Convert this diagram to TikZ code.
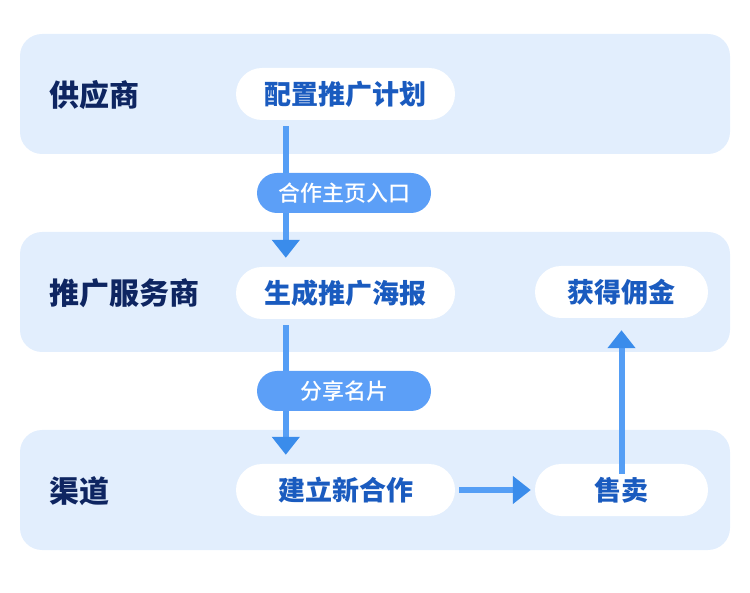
\documentclass[tikz,border=0pt]{standalone}
\usepackage{fontspec}
\setmainfont{Noto Sans CJK SC}
\newfontfamily\cjkheavy{Noto Sans CJK SC Black}
\newfontfamily\cjkmed{Noto Sans CJK SC Medium}
\usetikzlibrary{arrows.meta,calc}
\definecolor{bandc}{HTML}{E2EEFD}
\definecolor{navy}{HTML}{0E2561}
\definecolor{pilltext}{HTML}{1A5BBF}
\definecolor{arrc}{HTML}{559EF5}
\definecolor{headc}{HTML}{3A8CEB}
\definecolor{tagc}{HTML}{5C9FF7}
\tikzset{
  band/.style={fill=bandc, rounded corners=22pt, minimum width=710pt, minimum height=120pt, inner sep=0pt},
  lane/.style={anchor=west, text=navy, font=\cjkheavy\fontsize{30}{30}\selectfont, inner sep=0pt},
  pill/.style={fill=white, rounded corners=26pt, minimum height=52pt, inner sep=0pt, text=pilltext, font=\bfseries\fontsize{27}{27}\selectfont},
  tag/.style={fill=tagc, rounded corners=20pt, minimum width=174pt, minimum height=40pt, inner sep=0pt, text=white, font=\cjkmed\fontsize{22}{22}\selectfont},
  arr/.style={draw=arrc, line width=6pt, -{Triangle[width=27pt,length=18pt,color=headc]}}
}
\begin{document}
\begin{tikzpicture}[x=1pt,y=-1pt]
\useasboundingbox (0,0) rectangle (750,593);
\node[band] (b1) at (375,94) {};
\node[band] (b2) at (375,292) {};
\node[band] (b3) at (375,490) {};
\node[lane] (l1) at (49,95) {供应商};
\node[lane] (l2) at (49,293) {推广服务商};
\node[lane] (l3) at (49,491) {渠道};
\node[pill, minimum width=219pt] (p1) at (345.5,94) {配置推广计划};
\node[pill, minimum width=219pt] (p2) at (345.5,293) {生成推广海报};
\node[pill, minimum width=219pt] (p3) at (345.5,490) {建立新合作};
\node[pill, minimum width=173pt] (p4) at (621.5,292) {获得佣金};
\node[pill, minimum width=173pt] (p5) at (621.5,490) {售卖};
\draw[arr] ([xshift=50pt,yshift=-6pt]p1.south west) -- ([xshift=50pt,yshift=9pt]p2.north west);
\draw[arr] ([xshift=50pt,yshift=-6pt]p2.south west) -- ([xshift=50pt,yshift=9pt]p3.north west);
\draw[arr] ([xshift=4pt]p3.east) -- ([xshift=-4pt]p5.west);
\draw[arr] ([yshift=-10pt]p5.north) -- ([yshift=-12pt]p4.south);
\node[tag] (t1) at (344,193) {合作主页入口};
\node[tag] (t2) at (344,391) {分享名片};
\end{tikzpicture}
\end{document}
